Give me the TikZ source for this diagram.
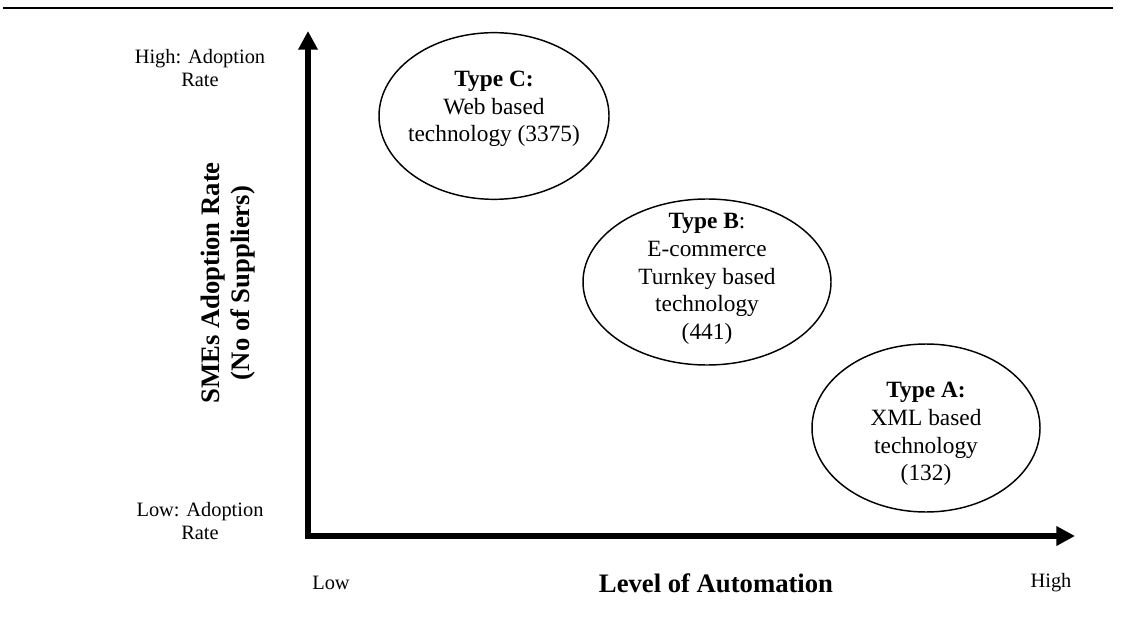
\documentclass[tikz,border=0pt]{standalone}
\usepackage{fontspec}
\setmainfont{Liberation Serif}
\usetikzlibrary{shapes.geometric,arrows.meta}

\begin{document}
\begin{tikzpicture}[x=0.75pt,y=-0.75pt,
  axisline/.style={line width=4.5pt,line join=miter,
    {Triangle[length=14pt,width=14pt]}-{Triangle[length=14pt,width=14pt]}},
  typebubble/.style={draw,ellipse,line width=1.1pt,inner sep=0pt},
  bubbletext/.style={align=center,inner sep=0pt,font=\fontsize{17.5}{20.8}\selectfont},
  ticklabel/.style={align=center,font=\fontsize{15.3}{17.3}\selectfont},
  axistitle/.style={align=center,font=\fontsize{20}{23}\selectfont\bfseries}]

\useasboundingbox (0,0) rectangle (1123,620);

% rule across the top
\coordinate (ruleL) at (3,8);
\coordinate (ruleR) at (1113,8);
\draw[line width=2.2pt] (ruleL) -- (ruleR);

% axes
\coordinate (origin) at (308,536);
\coordinate (ytip) at (308,31);
\coordinate (xtip) at (1075,536);
\draw[axisline] (ytip) -- (origin) -- (xtip);

% technology types (sizes in pt)
\node[typebubble,minimum width=172.5pt,minimum height=125pt] (typeC) at (494,116) {};
\node[bubbletext] (typeCtext) at (494,109)
  {\textbf{Type C:}\\Web based\\technology (3375)};

\node[typebubble,minimum width=186pt,minimum height=124.5pt] (typeB) at (707,282) {};
\node[bubbletext] (typeBtext) at (707,279)
  {\textbf{Type B}:\\E-commerce\\Turnkey based\\technology\\(441)};

\node[typebubble,minimum width=171pt,minimum height=126pt] (typeA) at (926,428) {};
\node[bubbletext] (typeAtext) at (926,434)
  {\textbf{Type A:}\\XML based\\technology\\(132)};

% axis labels
\node[ticklabel] (yhigh) at (200,68) {High: Adoption\\Rate};
\node[ticklabel] (ylow) at (200,521) {Low: Adoption\\Rate};
\node[ticklabel] (xlow) at (331,583) {Low};
\node[ticklabel] (xhigh) at (1051,583) {High};
\node[axistitle,rotate=90] (ytitle) at (228,283) {SMEs Adoption Rate\\(No of Suppliers)};
\node[axistitle] (xtitle) at (716,583) {Level of Automation};

\end{tikzpicture}
\end{document}
